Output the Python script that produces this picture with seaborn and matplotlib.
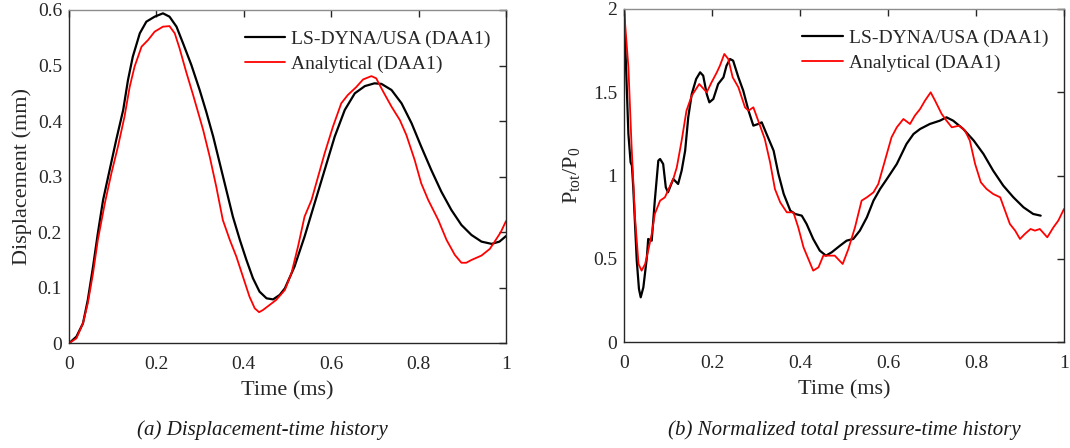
import matplotlib
matplotlib.use("Agg")
import matplotlib.pyplot as plt
import seaborn as sns
import pandas as pd

# ---------------- data: (a) displacement ----------------
t_disp_dyna = [0.000, 0.017, 0.032, 0.043, 0.055, 0.066, 0.078, 0.093, 0.108, 0.124,
               0.135, 0.146, 0.162, 0.177, 0.196, 0.215, 0.230, 0.246, 0.261, 0.280,
               0.299, 0.314, 0.330, 0.345, 0.360, 0.375, 0.391, 0.406, 0.421, 0.436,
               0.452, 0.467, 0.482, 0.494, 0.516, 0.539, 0.562, 0.585, 0.608, 0.631,
               0.654, 0.677, 0.699, 0.715, 0.738, 0.761, 0.784, 0.806, 0.829, 0.852,
               0.875, 0.898, 0.921, 0.944, 0.967, 0.985, 1.000]
d_dyna = [0.000, 0.012, 0.036, 0.078, 0.138, 0.198, 0.258, 0.312, 0.366, 0.420,
          0.474, 0.516, 0.558, 0.579, 0.588, 0.594, 0.588, 0.570, 0.540, 0.501,
          0.456, 0.417, 0.372, 0.324, 0.276, 0.228, 0.186, 0.150, 0.117, 0.093,
          0.081, 0.079, 0.087, 0.099, 0.138, 0.192, 0.252, 0.312, 0.372, 0.420,
          0.450, 0.463, 0.468, 0.467, 0.456, 0.432, 0.396, 0.354, 0.312, 0.273,
          0.240, 0.213, 0.195, 0.183, 0.179, 0.183, 0.193]

t_disp_ana = [0.000, 0.017, 0.032, 0.043, 0.055, 0.066, 0.082, 0.097, 0.112, 0.127,
              0.139, 0.150, 0.166, 0.181, 0.196, 0.215, 0.230, 0.242, 0.253, 0.268,
              0.284, 0.295, 0.307, 0.322, 0.337, 0.352, 0.368, 0.383, 0.398, 0.413,
              0.425, 0.435, 0.444, 0.459, 0.474, 0.494, 0.509, 0.524, 0.539, 0.555,
              0.570, 0.585, 0.604, 0.623, 0.638, 0.657, 0.673, 0.692, 0.703, 0.719,
              0.738, 0.757, 0.772, 0.791, 0.806, 0.822, 0.845, 0.864, 0.883, 0.898,
              0.909, 0.921, 0.944, 0.963, 0.974, 0.988, 1.000]
d_ana = [0.000, 0.009, 0.036, 0.072, 0.126, 0.186, 0.252, 0.306, 0.354, 0.408,
         0.462, 0.498, 0.534, 0.546, 0.561, 0.570, 0.571, 0.558, 0.531, 0.489,
         0.447, 0.417, 0.384, 0.336, 0.282, 0.222, 0.186, 0.156, 0.120, 0.084,
         0.063, 0.056, 0.060, 0.069, 0.078, 0.096, 0.126, 0.174, 0.228, 0.258,
         0.300, 0.342, 0.390, 0.432, 0.447, 0.461, 0.475, 0.481, 0.477, 0.453,
         0.426, 0.402, 0.375, 0.330, 0.288, 0.258, 0.222, 0.186, 0.159, 0.145,
         0.145, 0.150, 0.158, 0.170, 0.183, 0.200, 0.220]

# ---------------- data: (b) normalized total pressure ----------------
t_pres_dyna = [0.000, 0.006, 0.010, 0.015, 0.018, 0.021, 0.029, 0.034, 0.038, 0.044,
               0.052, 0.055, 0.063, 0.070, 0.078, 0.082, 0.089, 0.095, 0.100, 0.112,
               0.123, 0.131, 0.139, 0.146, 0.154, 0.164, 0.173, 0.180, 0.188, 0.194,
               0.203, 0.214, 0.226, 0.233, 0.241, 0.248, 0.260, 0.271, 0.283, 0.294,
               0.305, 0.313, 0.324, 0.340, 0.351, 0.363, 0.378, 0.389, 0.404, 0.415,
               0.430, 0.445, 0.459, 0.472, 0.491, 0.506, 0.521, 0.536, 0.552, 0.567,
               0.582, 0.600, 0.620, 0.642, 0.658, 0.673, 0.695, 0.718, 0.733, 0.748,
               0.771, 0.795, 0.817, 0.839, 0.862, 0.885, 0.908, 0.930, 0.947]
p_dyna = [2.00, 1.55, 1.25, 1.08, 1.06, 0.93, 0.49, 0.32, 0.27, 0.33,
          0.51, 0.62, 0.61, 0.85, 1.09, 1.10, 1.07, 0.93, 0.90, 0.98,
          0.95, 1.03, 1.15, 1.35, 1.49, 1.58, 1.62, 1.60, 1.49, 1.44,
          1.46, 1.55, 1.59, 1.66, 1.70, 1.69, 1.59, 1.51, 1.39, 1.30,
          1.31, 1.32, 1.25, 1.15, 1.01, 0.89, 0.79, 0.77, 0.76, 0.71,
          0.62, 0.55, 0.52, 0.54, 0.58, 0.61, 0.62, 0.67, 0.75, 0.85,
          0.92, 0.99, 1.07, 1.19, 1.25, 1.28, 1.31, 1.33, 1.35, 1.33,
          1.28, 1.21, 1.13, 1.03, 0.94, 0.87, 0.81, 0.77, 0.76]

t_pres_ana = [0.000, 0.010, 0.017, 0.025, 0.033, 0.040, 0.048, 0.055, 0.063, 0.070,
              0.082, 0.093, 0.105, 0.112, 0.120, 0.131, 0.142, 0.154, 0.171, 0.188,
              0.199, 0.211, 0.218, 0.228, 0.237, 0.247, 0.260, 0.275, 0.283, 0.294,
              0.305, 0.320, 0.332, 0.343, 0.355, 0.370, 0.385, 0.396, 0.408, 0.419,
              0.430, 0.442, 0.453, 0.464, 0.479, 0.497, 0.510, 0.525, 0.540, 0.552,
              0.567, 0.578, 0.593, 0.608, 0.620, 0.635, 0.650, 0.661, 0.673, 0.684,
              0.697, 0.707, 0.722, 0.733, 0.745, 0.762, 0.775, 0.786, 0.798, 0.811,
              0.824, 0.839, 0.855, 0.866, 0.877, 0.889, 0.900, 0.911, 0.924, 0.934,
              0.945, 0.962, 0.976, 0.987, 1.000]
p_ana = [2.00, 1.65, 1.19, 0.75, 0.47, 0.43, 0.47, 0.55, 0.65, 0.77,
         0.85, 0.87, 0.94, 0.98, 1.05, 1.21, 1.39, 1.48, 1.55, 1.50,
         1.56, 1.62, 1.66, 1.73, 1.70, 1.59, 1.53, 1.41, 1.39, 1.41,
         1.33, 1.22, 1.08, 0.92, 0.84, 0.78, 0.78, 0.69, 0.57, 0.50,
         0.43, 0.45, 0.52, 0.52, 0.52, 0.47, 0.56, 0.69, 0.85, 0.87,
         0.90, 0.95, 1.09, 1.23, 1.29, 1.34, 1.31, 1.36, 1.40, 1.45,
         1.50, 1.45, 1.37, 1.33, 1.29, 1.30, 1.27, 1.21, 1.07, 0.96,
         0.92, 0.89, 0.87, 0.79, 0.71, 0.67, 0.62, 0.65, 0.68, 0.67,
         0.68, 0.63, 0.69, 0.73, 0.80]

label_dyna = "LS-DYNA/USA (DAA1)"
label_ana = "Analytical (DAA1)"
x_ticks = [0, 0.2, 0.4, 0.6, 0.8, 1]
x_ticklabels = ["0", "0.2", "0.4", "0.6", "0.8", "1"]
disp_ticks = [0, 0.1, 0.2, 0.3, 0.4, 0.5, 0.6]
disp_ticklabels = ["0", "0.1", "0.2", "0.3", "0.4", "0.5", "0.6"]
pres_ticks = [0, 0.5, 1, 1.5, 2]
pres_ticklabels = ["0", "0.5", "1", "1.5", "2"]
caption_a = "(a) Displacement-time history"
caption_b = "(b) Normalized total pressure-time history"

# ---------------- style ----------------
sns.set_theme(style="white")
plt.rcParams["font.family"] = ["Liberation Serif", "DejaVu Serif"]
plt.rcParams["mathtext.fontset"] = "custom"
plt.rcParams["mathtext.rm"] = "Liberation Serif"
plt.rcParams["mathtext.it"] = "Liberation Serif:italic"

W, H = 1070, 448
fig = plt.figure(figsize=(W / 100, H / 100), dpi=100)
ax1 = fig.add_axes([69 / W, 1 - 343.3 / H, 437 / W, 333.3 / H])
ax2 = fig.add_axes([624 / W, 1 - 342.3 / H, 440 / W, 333.3 / H])

df_a_dyna = pd.DataFrame({"t": t_disp_dyna, "v": d_dyna})
df_a_ana = pd.DataFrame({"t": t_disp_ana, "v": d_ana})
df_b_dyna = pd.DataFrame({"t": t_pres_dyna, "v": p_dyna})
df_b_ana = pd.DataFrame({"t": t_pres_ana, "v": p_ana})

for ax, dfd, dfa in [(ax1, df_a_dyna, df_a_ana), (ax2, df_b_dyna, df_b_ana)]:
    sns.lineplot(data=dfd, x="t", y="v", ax=ax, color="black", lw=1.6,
                 label=label_dyna, estimator=None, sort=False)
    sns.lineplot(data=dfa, x="t", y="v", ax=ax, color="#ff0000", lw=1.3,
                 label=label_ana, estimator=None, sort=False)
    ax.set_xlim(0, 1)
    ax.set_xticks(x_ticks)
    ax.set_xticklabels(x_ticklabels)
    ax.tick_params(axis="both", which="both", direction="in", length=5, width=1,
                   top=True, right=True, labelsize=14, colors="#262626")
    ax.tick_params(axis="x", pad=9)
    ax.tick_params(axis="y", pad=5)
    for side, sp in ax.spines.items():
        sp.set_color("#262626")
        sp.set_linewidth(1.0)
    ax.spines["top"].set_color("#8c8c8c")
    ax.set_xlabel("Time (ms)", fontsize=16, color="#262626", labelpad=6)
    leg = ax.legend(loc="upper right", bbox_to_anchor=(0.965, 0.94), frameon=False,
                    fontsize=14, handlelength=2.1, handletextpad=0.3,
                    labelspacing=0.38, borderpad=0, borderaxespad=0)
    for txt in leg.get_texts():
        txt.set_color("#262626")

ax1.set_ylim(0, 0.6)
ax1.set_yticks(disp_ticks)
ax1.set_yticklabels(disp_ticklabels)
ax1.set_ylabel("Displacement (mm)", fontsize=16, color="#262626", labelpad=4)

ax2.set_ylim(0, 2)
ax2.set_yticks(pres_ticks)
ax2.set_yticklabels(pres_ticklabels)
ax2.set_ylabel(r"$\mathregular{P_{tot}/P_0}$", fontsize=16, color="#262626", labelpad=8)

fig.text(262 / W, 1 - 430 / H, caption_a, ha="center", va="center",
         fontsize=15, style="italic", color="#1a1a1a")
fig.text(844 / W, 1 - 430 / H, caption_b, ha="center", va="center",
         fontsize=15, style="italic", color="#1a1a1a")

fig.savefig("out.png", dpi=100)
